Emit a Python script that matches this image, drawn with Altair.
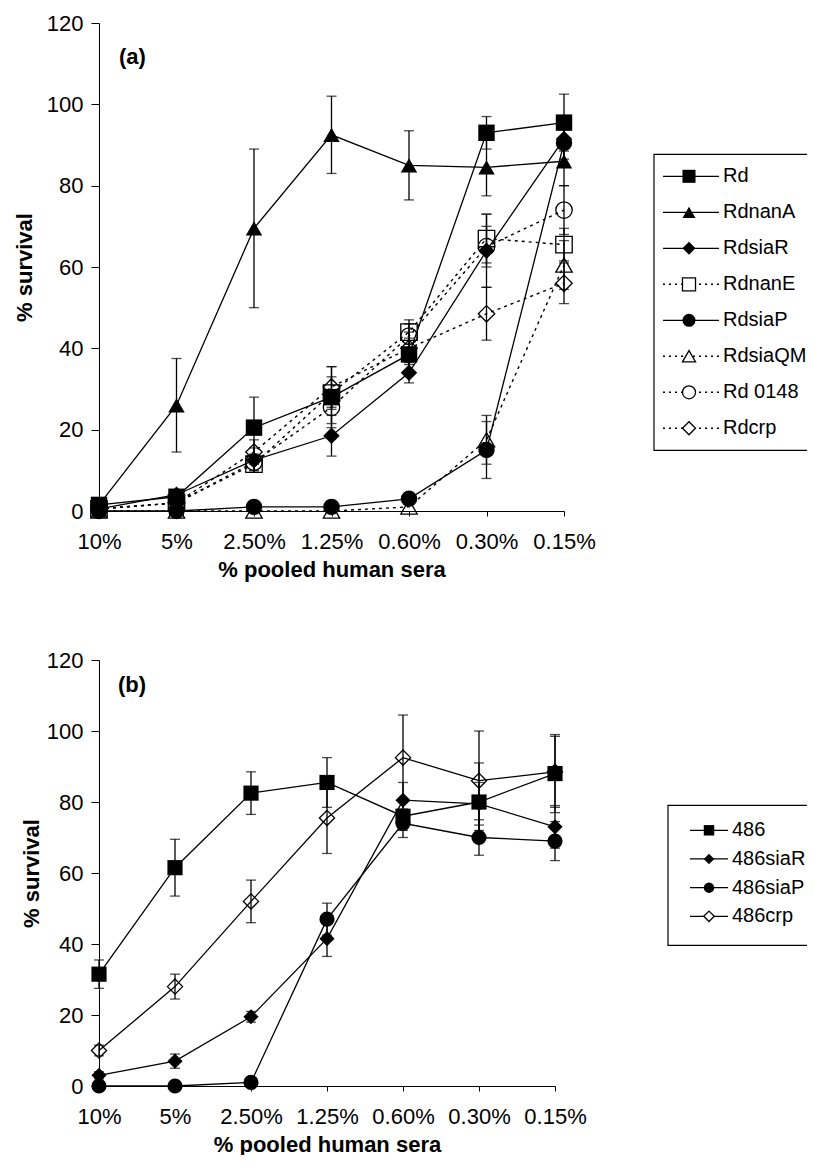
import altair as alt
import pandas as pd

FONT = "Liberation Sans"

cats = ['10%', '5%', '2.50%', '1.25%', '0.60%', '0.30%', '0.15%']

# ---------- panel (a) ----------
a_series = ['Rd', 'RdnanA', 'RdsiaR', 'RdnanE', 'RdsiaP', 'RdsiaQM', 'Rd 0148', 'Rdcrp']
a_shapes = ['square', 'triangle-up', 'diamond', 'square', 'circle', 'triangle-up', 'circle', 'diamond']
a_filled = [1, 1, 1, 0, 1, 0, 0, 0]
a_dashed = [0, 0, 0, 1, 0, 1, 1, 1]

a_Rd      = [1.5, 3.5, 20.5, 28.0, 38.5, 93.0, 95.5]
a_RdnanA  = [1.5, 26.0, 69.5, 92.5, 85.0, 84.5, 86.0]
a_RdsiaR  = [0.5, 4.0, 12.5, 18.5, 34.0, 64.0, 91.5]
a_RdnanE  = [0.5, 2.0, 11.5, 29.0, 44.0, 67.0, 65.5]
a_RdsiaP  = [0.0, 0.0, 1.0, 1.0, 3.0, 15.0, 90.5]
a_RdsiaQM = [0.0, 0.0, 0.0, 0.0, 1.0, 17.5, 60.5]
a_Rd0148  = [0.5, 2.0, 12.0, 25.5, 43.0, 65.0, 74.0]
a_Rdcrp   = [0.5, 2.0, 14.5, 30.5, 40.0, 48.5, 56.0]

a_Rd_err      = [0, 1, 7.5, 7.5, 4, 4, 7]
a_RdnanA_err  = [0, 11.5, 19.5, 9.5, 8.5, 7, 6]
a_RdsiaR_err  = [0, 1, 3, 5, 2.5, 9, 5]
a_RdnanE_err  = [0, 1, 2, 4, 3, 6, 4]
a_RdsiaP_err  = [0, 0, 0, 0, 0, 7, 6]
a_RdsiaQM_err = [0, 0, 0, 0, 0, 6, 6]
a_Rd0148_err  = [0, 1, 2, 4, 3, 5, 6]
a_Rdcrp_err   = [0, 1, 3, 5, 4, 6.5, 5]

a_values = [a_Rd, a_RdnanA, a_RdsiaR, a_RdnanE, a_RdsiaP, a_RdsiaQM, a_Rd0148, a_Rdcrp]
a_errors = [a_Rd_err, a_RdnanA_err, a_RdsiaR_err, a_RdnanE_err, a_RdsiaP_err,
            a_RdsiaQM_err, a_Rd0148_err, a_Rdcrp_err]

# ---------- panel (b) ----------
b_series = ['486', '486siaR', '486siaP', '486crp']
b_shapes = ['square', 'diamond', 'circle', 'diamond']
b_filled = [1, 1, 1, 0]
b_dashed = [0, 0, 0, 0]

b_486     = [31.5, 61.5, 82.5, 85.5, 76.0, 80.0, 88.0]
b_486siaR = [3.0, 7.0, 19.5, 41.5, 80.5, 79.5, 73.0]
b_486siaP = [0.0, 0.0, 1.0, 47.0, 74.0, 70.0, 69.0]
b_486crp  = [10.0, 28.0, 52.0, 75.5, 92.5, 86.0, 88.5]

b_486_err     = [4, 8, 6, 7, 4, 11, 11]
b_486siaR_err = [1, 2, 1.5, 5, 5, 6, 6]
b_486siaP_err = [0, 0, 0, 4.5, 4, 5, 5.5]
b_486crp_err  = [1.5, 3.5, 6, 10, 12, 14, 10]

b_values = [b_486, b_486siaR, b_486siaP, b_486crp]
b_errors = [b_486_err, b_486siaR_err, b_486siaP_err, b_486crp_err]


def build_df(series, shapes, filled, dashed, values, errors):
    rows = []
    for s, shp, f, d, vals, errs in zip(series, shapes, filled, dashed, values, errors):
        for i, (c, v, e) in enumerate(zip(cats, vals, errs)):
            rows.append(dict(series=s, shp=shp, filled=f, dashed=d, cat=c, idx=i,
                             value=v, err=e, lo=v - e, hi=v + e))
    return pd.DataFrame(rows)


def main_layer(df, msize, label, label_x, label_y, ytitle_pad):
    x = alt.X('cat:N', sort=cats, scale=alt.Scale(type='point', padding=0),
              axis=alt.Axis(title='% pooled human sera', labelAngle=0, ticks=True,
                            tickSize=5, labelPadding=15, titlePadding=7))
    yaxis = alt.Axis(values=[0, 20, 40, 60, 80, 100, 120], title='% survival',
                     tickSize=8, labelPadding=8, titlePadding=ytitle_pad)
    yscale = alt.Scale(domain=[0, 120], nice=False)
    y = alt.Y('value:Q', scale=yscale, axis=yaxis)
    base = alt.Chart(df)
    solid = base.transform_filter('datum.dashed == 0').mark_line(
        color='black', strokeWidth=1.3).encode(
        x=x, y=y, detail='series:N', order='idx:Q')
    dotted = base.transform_filter('datum.dashed == 1').mark_line(
        color='black', strokeWidth=1.4, strokeDash=[3, 4]).encode(
        x=x, y=y, detail='series:N', order='idx:Q')
    eb = base.transform_filter('datum.err > 0')
    rules = eb.mark_rule(color='black', strokeWidth=1.3).encode(
        x=x, y=alt.Y('lo:Q', scale=yscale, axis=yaxis), y2='hi:Q')
    cap_lo = eb.mark_tick(color='black', thickness=1.3, size=10).encode(
        x=x, y=alt.Y('lo:Q', scale=yscale, axis=yaxis))
    cap_hi = eb.mark_tick(color='black', thickness=1.3, size=10).encode(
        x=x, y=alt.Y('hi:Q', scale=yscale, axis=yaxis))
    pf = base.transform_filter('datum.filled == 1').mark_point(
        filled=True, color='black', opacity=1, size=msize).encode(
        x=x, y=y, shape=alt.Shape('shp:N', scale=None))
    po = base.transform_filter('datum.filled == 0').mark_point(
        filled=False, color='black', strokeWidth=1.3, opacity=1, size=msize).encode(
        x=x, y=y, shape=alt.Shape('shp:N', scale=None))
    lab = alt.Chart(pd.DataFrame({'t': [label]})).mark_text(
        align='left', baseline='middle', fontSize=22, fontWeight='bold',
        font=FONT, color='black').encode(
        text='t:N', x=alt.value(label_x), y=alt.value(label_y))
    return alt.layer(solid, dotted, rules, cap_lo, cap_hi, pf, po, lab)


def legend_layer(series, shapes, filled, dashed, box, lx1, lx2, mx, tx, yr, msize, fsize):
    ldf = pd.DataFrame({'lname': series, 'shp': shapes, 'filled': filled, 'dashed': dashed})
    yl = alt.Y('lname:N', sort=series,
               scale=alt.Scale(type='point', range=list(yr), padding=0), axis=None)
    base = alt.Chart(ldf)
    rect = alt.Chart(pd.DataFrame({'b': [0]})).mark_rect(
        fill='white', stroke='black', strokeWidth=1.2).encode(
        x=alt.value(box[0]), x2=alt.value(box[1]), y=alt.value(box[2]), y2=alt.value(box[3]))
    rs = base.transform_filter('datum.dashed == 0').mark_rule(
        color='black', strokeWidth=1.3).encode(x=alt.value(lx1), x2=alt.value(lx2), y=yl)
    rd = base.transform_filter('datum.dashed == 1').mark_rule(
        color='black', strokeWidth=1.4, strokeDash=[2, 4]).encode(
        x=alt.value(lx1), x2=alt.value(lx2), y=yl)
    pf = base.transform_filter('datum.filled == 1').mark_point(
        filled=True, color='black', opacity=1, size=msize).encode(
        x=alt.value(mx), y=yl, shape=alt.Shape('shp:N', scale=None))
    po = base.transform_filter('datum.filled == 0').mark_point(
        filled=True, fill='white', stroke='black', strokeWidth=1.3, opacity=1,
        size=msize).encode(x=alt.value(mx), y=yl, shape=alt.Shape('shp:N', scale=None))
    txt = base.mark_text(align='left', baseline='middle', fontSize=fsize, font=FONT,
                         color='black').encode(x=alt.value(tx), y=yl, text='lname:N')
    return alt.layer(rect, rs, rd, pf, po, txt)


dfa = build_df(a_series, a_shapes, a_filled, a_dashed, a_values, a_errors)
dfb = build_df(b_series, b_shapes, b_filled, b_dashed, b_values, b_errors)

panel_a = alt.layer(
    main_layer(dfa, 270, '(a)', 20, 34, 10),
    legend_layer(a_series, a_shapes, a_filled, a_dashed, (555, 900, 131.3, 427.3),
                 564, 620, 590, 624, (153.3, 405.3), 170, 20)
).resolve_scale(y='independent').properties(width=465, height=488)

panel_b = alt.layer(
    main_layer(dfb, 230, '(b)', 19, 25, 3),
    legend_layer(b_series, b_shapes, b_filled, b_dashed, (569, 900, 145.3, 285.3),
                 591, 629, 610, 633, (170.3, 256.3), 110, 20)
).resolve_scale(y='independent').properties(width=456, height=426)

chart = alt.vconcat(alt.hconcat(panel_a), alt.hconcat(panel_b), spacing=69).properties(
    padding={'left': 5, 'top': 4, 'right': -193, 'bottom': 0},
    background='white'
).configure_view(stroke=None).configure_axis(
    domainColor='black', domainWidth=1, tickColor='black', tickWidth=1,
    labelColor='black', titleColor='black', labelFont=FONT, titleFont=FONT,
    labelFontSize=22, titleFontSize=22, titleFontWeight='bold', grid=False
).configure_text(font=FONT)

chart.save("out.html", embed_options={"renderer": "svg", "actions": False})
